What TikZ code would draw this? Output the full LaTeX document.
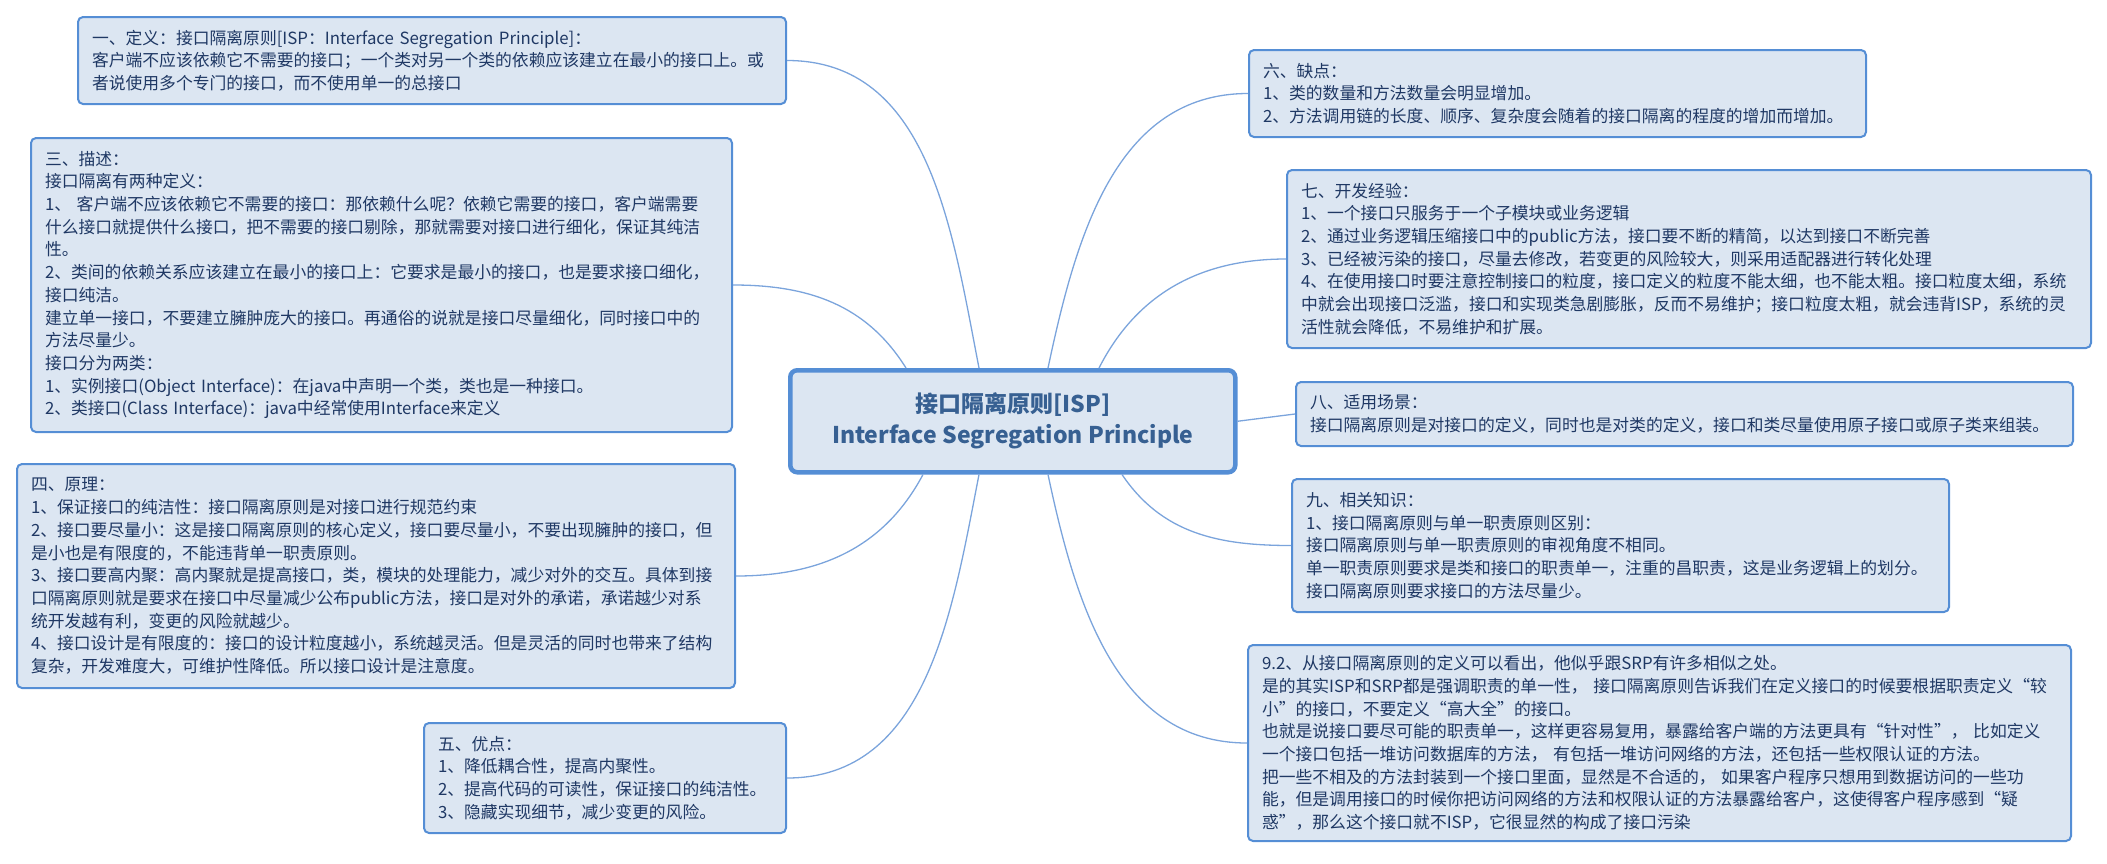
\documentclass[tikz,border=0pt]{standalone}
\usepackage{fontspec}
\setmainfont{Noto Sans CJK SC}
\usetikzlibrary{calc}
\definecolor{fillc}{HTML}{DCE6F2}
\definecolor{bordc}{HTML}{558ED5}
\definecolor{txtc}{HTML}{1F3864}
\definecolor{titlec}{HTML}{376092}
\definecolor{linec}{HTML}{7BA4DC}
\tikzset{
  topic/.style={draw=bordc, line width=2pt, fill=fillc, rounded corners=5pt,
    anchor=north west, inner xsep=14pt, inner ysep=0pt, align=left,
    font=\fontsize{16.8}{22.7}\selectfont, text=txtc},
  central/.style={draw=bordc, line width=4.5pt, fill=fillc, rounded corners=7pt,
    anchor=north west, inner sep=0pt, align=center, minimum width=445pt, minimum height=102pt,
    font=\fontsize{23}{31}\selectfont\bfseries, text=titlec},
  conn/.style={draw=linec, line width=1.3pt},
}
\begin{document}
\begin{tikzpicture}[x=1pt,y=-1pt]
\useasboundingbox (0,0) rectangle (2107,863);

\node[central] (C) at (788,368) {接口隔离原则[ISP]\\Interface Segregation Principle};

\node[topic, text width=680pt, minimum height=87pt] (def) at (77,16) {一、定义：接口隔离原则[ISP：Interface Segregation Principle]：\\客户端不应该依赖它不需要的接口；一个类对另一个类的依赖应该建立在最小的接口上。或\\者说使用多个专门的接口，而不使用单一的总接口};

\node[topic, text width=673pt, minimum height=294pt] (desc) at (30,137) {三、描述：\\接口隔离有两种定义：\\1、 客户端不应该依赖它不需要的接口：那依赖什么呢？依赖它需要的接口，客户端需要\\什么接口就提供什么接口，把不需要的接口剔除，那就需要对接口进行细化，保证其纯洁\\性。\\2、类间的依赖关系应该建立在最小的接口上：它要求是最小的接口，也是要求接口细化，\\接口纯洁。\\建立单一接口，不要建立臃肿庞大的接口。再通俗的说就是接口尽量细化，同时接口中的\\方法尽量少。\\接口分为两类：\\1、实例接口(Object Interface)：在java中声明一个类，类也是一种接口。\\2、类接口(Class Interface)：java中经常使用Interface来定义};

\node[topic, text width=690pt, minimum height=224pt] (prin) at (16,463) {四、原理：\\1、保证接口的纯洁性：接口隔离原则是对接口进行规范约束\\2、接口要尽量小：这是接口隔离原则的核心定义，接口要尽量小，不要出现臃肿的接口，但\\是小也是有限度的，不能违背单一职责原则。\\3、接口要高内聚：高内聚就是提高接口，类，模块的处理能力，减少对外的交互。具体到接\\口隔离原则就是要求在接口中尽量减少公布public方法，接口是对外的承诺，承诺越少对系\\统开发越有利，变更的风险就越少。\\4、接口设计是有限度的：接口的设计粒度越小，系统越灵活。但是灵活的同时也带来了结构\\复杂，开发难度大，可维护性降低。所以接口设计是注意度。};

\node[topic, text width=334pt, minimum height=110pt] (adv) at (423,722) {五、优点：\\1、降低耦合性，提高内聚性。\\2、提高代码的可读性，保证接口的纯洁性。\\3、隐藏实现细节，减少变更的风险。};

\node[topic, text width=589pt, minimum height=87pt] (dis) at (1248,49) {六、缺点：\\1、类的数量和方法数量会明显增加。\\2、方法调用链的长度、顺序、复杂度会随着的接口隔离的程度的增加而增加。};

\node[topic, text width=776pt, minimum height=178pt] (exp) at (1286,169) {七、开发经验：\\1、一个接口只服务于一个子模块或业务逻辑\\2、通过业务逻辑压缩接口中的public方法，接口要不断的精简，以达到接口不断完善\\3、已经被污染的接口，尽量去修改，若变更的风险较大，则采用适配器进行转化处理\\4、在使用接口时要注意控制接口的粒度，接口定义的粒度不能太细，也不能太粗。接口粒度太细，系统\\中就会出现接口泛滥，接口和实现类急剧膨胀，反而不易维护；接口粒度太粗，就会违背ISP，系统的灵\\活性就会降低，不易维护和扩展。};

\node[topic, text width=749pt, minimum height=64pt] (scen) at (1295,381) {八、适用场景：\\接口隔离原则是对接口的定义，同时也是对类的定义，接口和类尽量使用原子接口或原子类来组装。};

\node[topic, text width=629pt, minimum height=133pt] (rel) at (1291,478) {九、相关知识：\\1、接口隔离原则与单一职责原则区别：\\接口隔离原则与单一职责原则的审视角度不相同。\\单一职责原则要求是类和接口的职责单一，注重的昌职责，这是业务逻辑上的划分。\\接口隔离原则要求接口的方法尽量少。};

\node[topic, text width=795pt, minimum height=196pt] (relb) at (1247,644) {9.2、从接口隔离原则的定义可以看出，他似乎跟SRP有许多相似之处。\\是的其实ISP和SRP都是强调职责的单一性， 接口隔离原则告诉我们在定义接口的时候要根据职责定义“较\\小”的接口，不要定义“高大全”的接口。\\也就是说接口要尽可能的职责单一，这样更容易复用，暴露给客户端的方法更具有“针对性”， 比如定义\\一个接口包括一堆访问数据库的方法， 有包括一堆访问网络的方法，还包括一些权限认证的方法。\\把一些不相及的方法封装到一个接口里面，显然是不合适的， 如果客户程序只想用到数据访问的一些功\\能，但是调用接口的时候你把访问网络的方法和权限认证的方法暴露给客户，这使得客户程序感到“疑\\惑”，那么这个接口就不ISP，它很显然的构成了接口污染};

\coordinate (tA) at ($(C.north west)+(118,0)$);
\coordinate (tB) at ($(C.north west)+(191,0)$);
\coordinate (tC) at ($(C.north west)+(260,0)$);
\coordinate (tD) at ($(C.north west)+(311,0)$);
\coordinate (bA) at ($(C.south west)+(135,0)$);
\coordinate (bB) at ($(C.south west)+(191,0)$);
\coordinate (bC) at ($(C.south west)+(260,0)$);
\coordinate (bD) at ($(C.south west)+(334,0)$);

\draw[conn] (tB) to[out=101,in=0] (def.east);
\draw[conn] (tA) to[out=122,in=0] (desc.east);
\draw[conn] (bA) to[out=242,in=0] (prin.east);
\draw[conn] (bB) to[out=259,in=0] (adv.east);
\draw[conn] (tC) to[out=78,in=180] (dis.west);
\draw[conn] (tD) to[out=63,in=180] (exp.west);
\draw[conn] (C.east) -- (scen.west);
\draw[conn] (bD) to[out=-56,in=180] (rel.west);
\draw[conn] (bC) to[out=-78,in=180] (relb.west);
\end{tikzpicture}
\end{document}
